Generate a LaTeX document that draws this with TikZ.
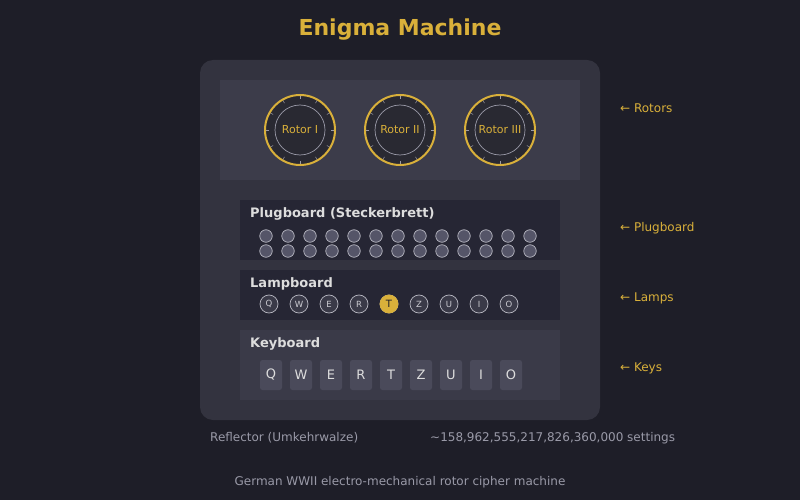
\documentclass[tikz,border=0pt]{standalone}
\usepackage{fontspec}
\setmainfont{DejaVu Sans}
\usetikzlibrary{calc}
\definecolor{bg}{HTML}{1E1E28}
\definecolor{box}{HTML}{33333F}
\definecolor{rotp}{HTML}{3C3C4A}
\definecolor{dk}{HTML}{262634}
\definecolor{kbp}{HTML}{3A3A48}
\definecolor{gold}{HTML}{D9B03A}
\definecolor{peg}{HTML}{555568}
\definecolor{txt}{HTML}{DDDDDD}
\definecolor{gry}{HTML}{9A9AA8}
\definecolor{keyc}{HTML}{4A4A5A}
\begin{document}
\begin{tikzpicture}[x=1pt,y=-1pt,
 ttl/.style={font=\fontsize{13}{15}\selectfont\bfseries,text=txt,anchor=west,inner sep=0},
 side/.style={font=\fontsize{12}{14}\selectfont,text=gold,anchor=west,inner sep=0},
 pegc/.style={circle,fill=peg,draw=gry!70,line width=0.7pt,minimum size=12.5pt,inner sep=0},
 lamp/.style={circle,fill=kbp,draw=gry!70,line width=0.7pt,minimum size=18pt,inner sep=0,font=\fontsize{8.5}{10}\selectfont,text=gry!50},
 keyb/.style={rounded corners=2.5pt,fill=keyc,minimum width=22pt,minimum height=30pt,inner sep=0,font=\fontsize{13}{15}\selectfont,text=txt}]
\fill[bg] (0,0) rectangle (800,500);
\useasboundingbox (0,0) rectangle (800,500);
\node[font=\fontsize{22}{26}\selectfont\bfseries,text=gold] (title) at (400,30) {Enigma Machine};
\fill[box,rounded corners=13pt] (200,60) rectangle (600,420);
\fill[rotp] (220,80) rectangle (580,180);
\foreach \x/\n/\l in {300/r1/Rotor I,400/r2/Rotor II,500/r3/Rotor III}{
 \fill[box!80!black] (\x,130) circle (35);
 \foreach \a in {0,30,...,330}
   \draw[gry,line width=0.5pt] ($(\x,130)+(\a:31)$) -- ($(\x,130)+(\a:36)$);
 \draw[gold,line width=2pt] (\x,130) circle (35);
 \draw[gry,line width=0.7pt] (\x,130) circle (25);
 \node[font=\fontsize{11}{13}\selectfont,text=gold] (\n) at (\x,130) {\l};
}
\fill[dk] (240,200) rectangle (560,260);
\node[ttl] (pbt) at (250,214) {Plugboard (Steckerbrett)};
\foreach \i in {0,...,12}{
 \node[pegc] (pa\i) at (266+22*\i,236) {};
 \node[pegc] (pb\i) at (266+22*\i,251) {};
}
\fill[dk] (240,270) rectangle (560,320);
\node[ttl] (lbt) at (250,284) {Lampboard};
\foreach \c [count=\i from 0] in {Q,W,E,R,T,Z,U,I,O}{
 \node[lamp] (l\c) at (269+30*\i,304) {\c};
}
\node[lamp,fill=gold,draw=gold,text=bg,font=\fontsize{10}{12}\selectfont] at (389,304) {T};
\fill[kbp] (240,330) rectangle (560,400);
\node[ttl] (kbt) at (250,344) {Keyboard};
\foreach \c [count=\i from 0] in {Q,W,E,R,T,Z,U,I,O}{
 \node[keyb] (k\c) at (271+30*\i,375) {\c};
}
\node[side] (s1) at (620,108) {← Rotors};
\node[side] (s2) at (620,228) {← Plugboard};
\node[side] (s3) at (620,298) {← Lamps};
\node[side] (s4) at (620,368) {← Keys};
\node[font=\fontsize{12}{14}\selectfont,text=gry,anchor=west,inner sep=0] (refl) at (210,438) {Reflector (Umkehrwalze)};
\node[font=\fontsize{12}{14}\selectfont,text=gry,anchor=west,inner sep=0] (sett) at (430,438) {\textasciitilde158,962,555,217,826,360,000 settings};
\node[font=\fontsize{12}{14}\selectfont,text=gry] (cap) at (400,482) {German WWII electro-mechanical rotor cipher machine};
\end{tikzpicture}
\end{document}
